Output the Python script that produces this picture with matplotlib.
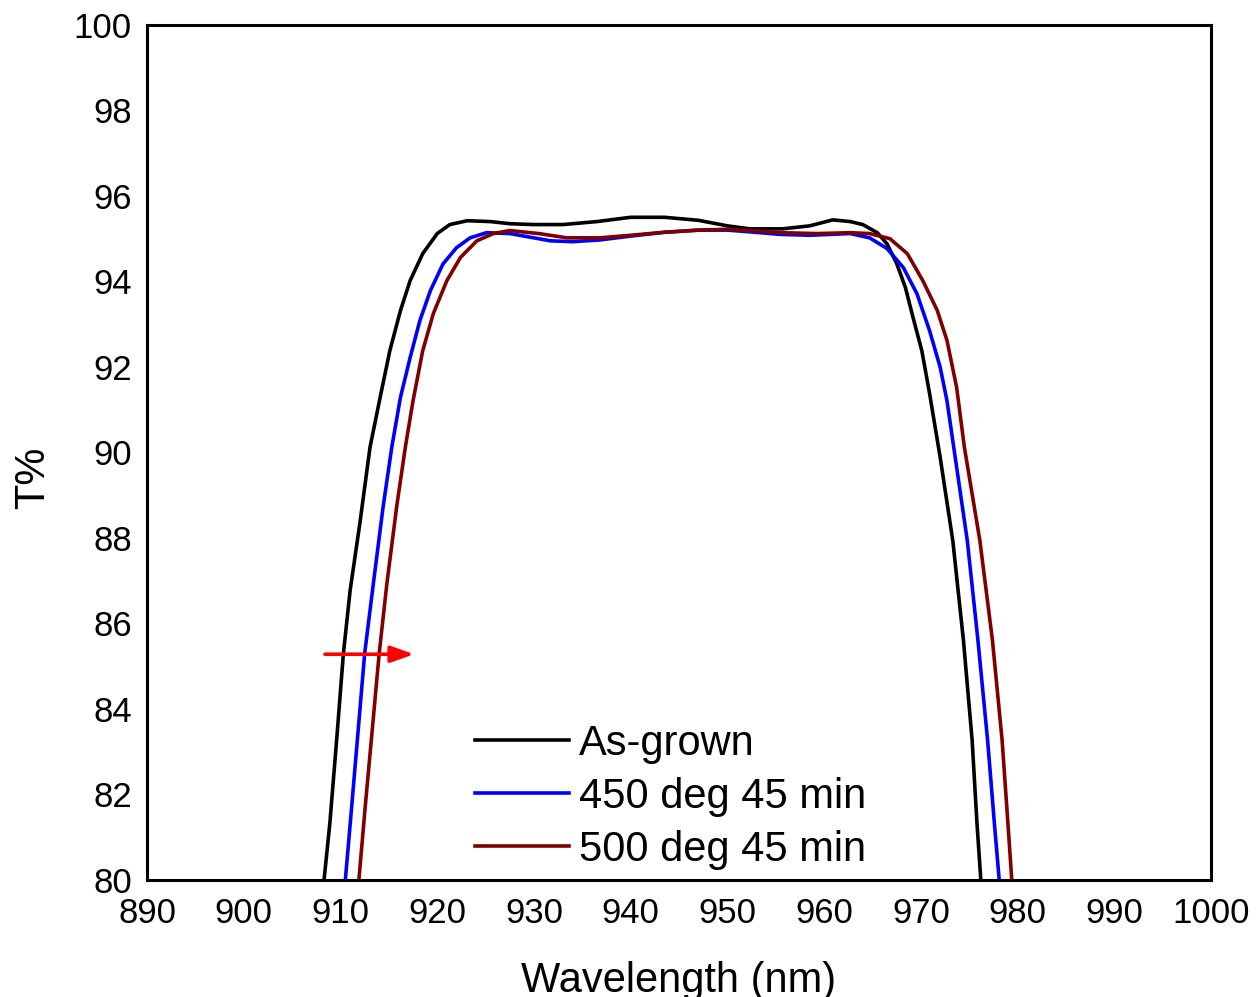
import matplotlib
matplotlib.use("Agg")
import matplotlib.pyplot as plt

plt.rcParams['font.family'] = ['Liberation Sans', 'DejaVu Sans']

# As-grown
wl_asgrown = [907.9, 908.3, 908.9, 909.6, 910.3, 911.0, 912.0, 913.05, 914.1, 915.1,
              916.2, 917.2, 918.5, 920.0, 921.3, 923.1, 925.5, 927.5, 930.0, 933.0,
              936.5, 940.0, 943.5, 947.0, 950.0, 952.3, 955.7, 958.5, 960.9, 962.7,
              964.0, 965.5, 966.5, 967.5, 968.4, 969.2, 970.1, 970.9, 972.0,
              973.3, 974.4, 975.3, 975.8, 976.2, 976.5]
t_asgrown = [79.0, 80.0, 81.33, 83.27, 85.3, 86.78, 88.34, 90.12, 91.29, 92.38,
             93.32, 94.02, 94.65, 95.12, 95.33, 95.42, 95.4, 95.35, 95.33, 95.33,
             95.4, 95.5, 95.5, 95.43, 95.3, 95.23, 95.23, 95.3, 95.44, 95.4,
             95.33, 95.14, 94.88, 94.42, 93.86, 93.15, 92.38, 91.38, 89.88,
             87.94, 85.61, 83.27, 81.33, 80.0, 79.0]

# 450 deg 45 min
wl_450 = [910.1, 910.5, 911.15, 911.8, 912.5, 913.4, 914.4, 915.3, 916.2, 917.2,
          918.2, 919.3, 920.6, 922.0, 923.4, 925.1, 927.5, 931.7, 934.0, 936.8,
          940.0, 943.5, 947.0, 950.0, 952.3, 955.5, 958.5, 962.7, 964.7, 966.5,
          968.2, 969.6, 970.9, 972.0, 972.7, 973.4, 974.8, 975.9, 976.9, 977.6,
          978.1, 978.4]
t_450 = [79.0, 80.0, 81.7, 83.43, 85.3, 86.94, 88.72, 90.12, 91.29, 92.22,
         93.08, 93.79, 94.41, 94.79, 95.02, 95.14, 95.12, 94.95, 94.93, 94.97,
         95.06, 95.15, 95.2, 95.2, 95.16, 95.1, 95.08, 95.12, 95.02, 94.77,
         94.32, 93.71, 92.85, 91.99, 91.21, 90.12, 87.94, 85.61, 83.27, 81.33,
         80.0, 79.0]

# 500 deg 45 min
wl_500 = [911.5, 911.9, 912.55, 913.25, 914.0, 914.8, 915.8, 916.7, 917.5, 918.5,
          919.6, 921.0, 922.4, 924.1, 925.8, 927.5, 930.5, 933.4, 936.8, 940.0,
          943.5, 947.0, 950.0, 952.3, 955.5, 959.3, 962.7, 964.7, 966.8, 968.6,
          970.2, 971.7, 972.7, 973.7, 974.5, 976.1, 977.4, 978.4, 979.0, 979.4,
          979.7]
t_500 = [79.0, 80.0, 81.7, 83.43, 85.3, 86.94, 88.72, 90.12, 91.21, 92.38,
         93.25, 94.02, 94.56, 94.95, 95.12, 95.19, 95.12, 95.02, 95.02, 95.08,
         95.15, 95.2, 95.22, 95.19, 95.14, 95.12, 95.14, 95.12, 95.0, 94.65,
         94.02, 93.32, 92.62, 91.52, 90.12, 87.94, 85.61, 83.27, 81.33, 80.0,
         79.0]

xticks = [890, 900, 910, 920, 930, 940, 950, 960, 970, 980, 990, 1000]
yticks = [80, 82, 84, 86, 88, 90, 92, 94, 96, 98, 100]

fig = plt.figure(figsize=(12.59, 9.97), dpi=100)
ax = fig.add_axes([0.1168, 0.1174, 0.8451, 0.8576])

ax.plot(wl_asgrown, t_asgrown, color="black", lw=2.6, label="As-grown")
ax.plot(wl_450, t_450, color="#0000ff", lw=2.6, label="450 deg 45 min")
ax.plot(wl_500, t_500, color="#800000", lw=2.6, label="500 deg 45 min")

# red shift arrow
ax.annotate("", xy=(917.6, 85.28), xytext=(908.4, 85.28),
            arrowprops=dict(arrowstyle="-|>,head_length=1.4,head_width=0.5",
                            color="red", lw=2.6, shrinkA=0, shrinkB=0))

ax.set_xlim(890, 1000)
ax.set_ylim(80, 100)
ax.set_xticks(xticks)
ax.set_yticks(yticks)
ax.tick_params(length=0, labelsize=25)
ax.tick_params(axis="x", pad=12)
ax.tick_params(axis="y", pad=11)
for s in ax.spines.values():
    s.set_linewidth(2.2)

ax.set_xlabel("Wavelength (nm)", fontsize=30)
ax.set_ylabel("T%", fontsize=30)
ax.xaxis.set_label_coords(0.5, -0.095)
ax.yaxis.set_label_coords(-0.088, 0.47)

ax.legend(loc="lower left", bbox_to_anchor=(0.308, 0.012), frameon=False,
          fontsize=30, handlelength=2.25, handletextpad=0.26,
          labelspacing=0.31, borderpad=0, borderaxespad=0)

fig.savefig("out.png", dpi=100)
